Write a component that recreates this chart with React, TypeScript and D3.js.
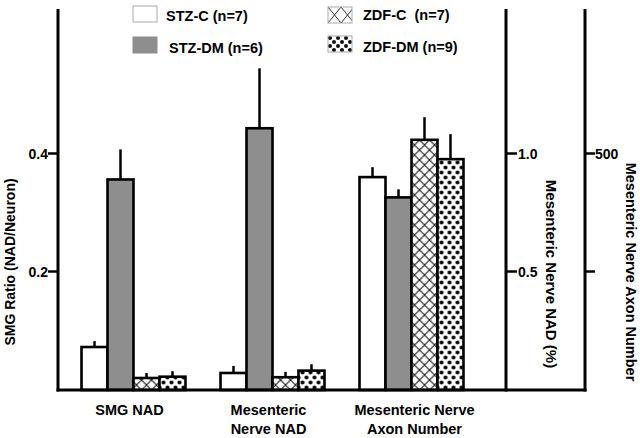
import React from "react";
import * as d3 from "d3";

const groups = ["SMG NAD", "Mesenteric Nerve NAD", "Mesenteric Nerve Axon Number"];
const groupLabels = [["SMG NAD"], ["Mesenteric", "Nerve NAD"], ["Mesenteric Nerve", "Axon Number"]];
const series = ["STZ-C (n=7)", "STZ-DM (n=6)", "ZDF-C  (n=7)", "ZDF-DM (n=9)"];
// means per group: [SMG ratio, NAD %, axon number]
const stzC = [0.072, 0.07, 450];
const stzDM = [0.356, 1.107, 407];
const zdfC = [0.0195, 0.052, 529];
const zdfDM = [0.0217, 0.08, 488];
// standard errors
const stzCErr = [0.01, 0.03, 21];
const stzDMErr = [0.051, 0.254, 17];
const zdfCErr = [0.0085, 0.023, 48];
const zdfDMErr = [0.0093, 0.027, 53];

const leftTicks = [0.2, 0.4];
const midTicks = [0.5, 1.0];
const rightTicks = [250, 500];
const rightTickLabels = ["", "500"];

const W = 640, H = 438;
const FONT = "'Liberation Sans', Arial, sans-serif";

export default function App() {
  const y0 = 389.5, yTop = 153.5;
  const yLeft = d3.scaleLinear().domain([0, 0.4]).range([y0, yTop]);
  const yMid = d3.scaleLinear().domain([0, 1.0]).range([y0, yTop]);
  const yRight = d3.scaleLinear().domain([0, 500]).range([y0, yTop]);
  const yScales = [yLeft, yMid, yRight];

  const xG = d3.scaleBand<string>().domain(groups).range([64, 481]).paddingInner(0.252).paddingOuter(0.126);
  const xS = d3.scaleBand<string>().domain(series).range([0, xG.bandwidth()]).padding(0);

  const means = [stzC, stzDM, zdfC, zdfDM];
  const errs = [stzCErr, stzDMErr, zdfCErr, zdfDMErr];
  const fills = ["#ffffff", "#8e8e8e", "url(#cross)", "url(#dots)"];
  const legendFills = ["#ffffff", "#8e8e8e", "url(#crossL)", "url(#dotsL)"];
  const labelShift = [-4, -4, 3];

  const baseY = 390;
  const axLeftX = 58, axMidX = 506, axRightX = 585, axTop = 9;

  const legendPos = [
    { bx: 133, by: 6, tx: 166, ty: 21 },
    { bx: 133, by: 37, tx: 169, ty: 53 },
    { bx: 328, by: 7, tx: 363, ty: 20 },
    { bx: 328, by: 36, tx: 363, ty: 52 },
  ];

  return (
    <svg width={W} height={H} style={{ position: "absolute", left: 0, top: 0, background: "#fff" }}>
      <defs>
        <pattern id="cross" width={10} height={10} patternUnits="userSpaceOnUse">
          <rect width={10} height={10} fill="#fff" />
          <path d="M0,0 L10,10 M10,0 L0,10" stroke="#222" strokeWidth={1.2} />
        </pattern>
        <pattern id="dots" width={8} height={10} patternUnits="userSpaceOnUse">
          <rect width={8} height={10} fill="#fff" />
          <circle cx={2} cy={2.5} r={2} fill="#000" />
          <circle cx={6} cy={7.5} r={2} fill="#000" />
        </pattern>
        <pattern id="crossL" width={13} height={16} patternUnits="userSpaceOnUse" x={328} y={7}>
          <rect width={13} height={16} fill="#fff" />
          <path d="M0,0 L13,16 M13,0 L0,16" stroke="#333" strokeWidth={1} />
        </pattern>
        <pattern id="dotsL" width={8} height={8} patternUnits="userSpaceOnUse" x={328} y={36}>
          <rect width={8} height={8} fill="#fff" />
          <circle cx={2} cy={2} r={2} fill="#111" />
          <circle cx={6} cy={6} r={2} fill="#111" />
        </pattern>
      </defs>

      {/* bars */}
      {groups.map((g, gi) => {
        const ys = yScales[gi];
        return (
          <g key={g} transform={`translate(${xG(g)},0)`}>
            {series.map((s, si) => {
              const v = means[si][gi];
              const e = errs[si][gi];
              const x = xS(s)!;
              const w = xS.bandwidth();
              const top = ys(v);
              return (
                <g key={s}>
                  <line x1={x + w / 2} x2={x + w / 2} y1={top} y2={ys(v + e)} stroke="#000" strokeWidth={2.5} />
                  <rect x={x} y={top} width={w} height={baseY - top} fill={fills[si]} stroke="#000" strokeWidth={2.6} />
                </g>
              );
            })}
          </g>
        );
      })}

      {/* axes */}
      <line x1={axLeftX} x2={axLeftX} y1={axTop} y2={baseY + 1.5} stroke="#000" strokeWidth={3} />
      <line x1={axMidX} x2={axMidX} y1={axTop} y2={baseY + 1.5} stroke="#000" strokeWidth={3} />
      <line x1={axRightX} x2={axRightX} y1={axTop} y2={baseY + 1.5} stroke="#000" strokeWidth={3} />
      <line x1={axLeftX - 1.5} x2={axRightX + 1.5} y1={baseY} y2={baseY} stroke="#000" strokeWidth={3} />

      {leftTicks.map((t) => (
        <g key={t}>
          <line x1={axLeftX - 10} x2={axLeftX} y1={yLeft(t)} y2={yLeft(t)} stroke="#000" strokeWidth={2.5} />
          <text x={axLeftX - 10} y={yLeft(t) + 5} textAnchor="end" fontFamily={FONT} fontWeight="bold" fontSize={14}>
            {d3.format(".1f")(t)}
          </text>
        </g>
      ))}
      {midTicks.map((t) => (
        <g key={t}>
          <line x1={axMidX} x2={axMidX + 11} y1={yMid(t)} y2={yMid(t)} stroke="#000" strokeWidth={2.5} />
          <text x={axMidX + 12} y={yMid(t) + 5} fontFamily={FONT} fontWeight="bold" fontSize={14}>
            {d3.format(".1f")(t)}
          </text>
        </g>
      ))}
      {rightTicks.map((t, i) => (
        <g key={t}>
          <line x1={axRightX} x2={axRightX + 10} y1={yRight(t)} y2={yRight(t)} stroke="#000" strokeWidth={2.5} />
          <text x={axRightX + 10} y={yRight(t) + 5} fontFamily={FONT} fontWeight="bold" fontSize={14}>
            {rightTickLabels[i]}
          </text>
        </g>
      ))}

      {/* axis titles */}
      <text transform="translate(15,262) rotate(-90)" textAnchor="middle" fontFamily={FONT} fontWeight="bold" fontSize={14}>
        SMG Ratio (NAD/Neuron)
      </text>
      <text transform="translate(546,274) rotate(90)" textAnchor="middle" fontFamily={FONT} fontWeight="bold" fontSize={15}>
        Mesenteric Nerve NAD (%)
      </text>
      <text transform="translate(626,272) rotate(90)" textAnchor="middle" fontFamily={FONT} fontWeight="bold" fontSize={14.5}>
        Mesenteric Nerve Axon Number
      </text>

      {/* x labels */}
      {groups.map((g, gi) => {
        const cx = xG(g)! + xG.bandwidth() / 2 + labelShift[gi];
        return (
          <text key={g} x={cx} y={415} textAnchor="middle" fontFamily={FONT} fontWeight="bold" fontSize={14.5}>
            {groupLabels[gi].map((l, li) => (
              <tspan key={li} x={cx} dy={li === 0 ? 0 : 19}>{l}</tspan>
            ))}
          </text>
        );
      })}

      {/* legend */}
      {series.map((s, si) => {
        const p = legendPos[si];
        return (
          <g key={s}>
            <rect x={p.bx} y={p.by} width={24} height={16} fill={legendFills[si]} stroke={si === 1 ? "#8e8e8e" : "#aaa"} strokeWidth={1} />
            <text x={p.tx} y={p.ty} fontFamily={FONT} fontWeight="bold" fontSize={14.5} style={{ whiteSpace: "pre" }}>
              {s}
            </text>
          </g>
        );
      })}
    </svg>
  );
}
